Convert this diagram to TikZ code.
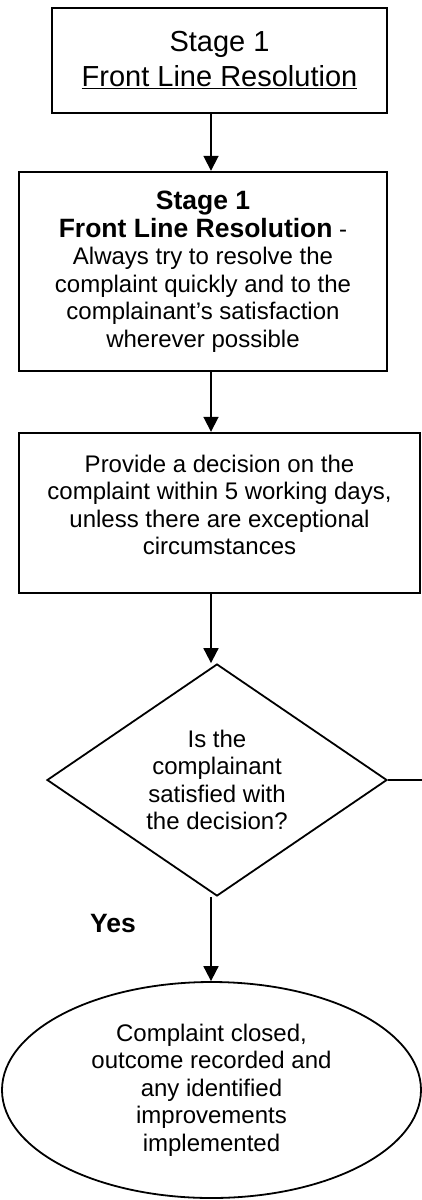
\documentclass[tikz,border=0pt]{standalone}
\usepackage{fontspec}
\setmainfont{Liberation Sans}
\usetikzlibrary{shapes.geometric,arrows.meta}

\begin{document}
\begin{tikzpicture}[x=1pt,y=-1pt,
    box/.style={draw,line width=2.4pt,rectangle,align=center,inner sep=0pt},
    arr/.style={line width=1.8pt,-{Triangle[length=15pt,width=15pt]}},
    body/.style={font=\fontsize{24}{27.5}\selectfont},
    heading/.style={font=\fontsize{26.5}{30}\selectfont\bfseries}]

    \useasboundingbox (0,0) rectangle (422,1200);
    \coordinate (spine) at (211,0);
    \coordinate (exit) at (422,780);

    \node (stage) at (219.5,60.5) [box,minimum width=335pt,minimum height=105pt,font=\fontsize{29}{35}\selectfont] {Stage 1\\\underline{Front Line Resolution}};
    \node (resolve) at (203,271.5) [box,minimum width=368pt,minimum height=199pt,body] {{\fontsize{26.5}{30}\selectfont\bfseries Stage 1}\\{\fontsize{26.5}{30}\selectfont\bfseries Front Line Resolution} -\\Always try to resolve the\\complaint quickly and to the\\complainant’s satisfaction\\wherever possible};
    \node (decision) at (219.5,513) [box,minimum width=401pt,minimum height=160pt] {};
    \node (decisiontext) at (219.5,505) [body,align=center] {Provide a decision on the\\complaint within 5 working days,\\unless there are exceptional\\circumstances};
    \node (satisfied) at (217,780) [diamond,draw,line width=1.8pt,aspect=1.466,minimum width=340pt,minimum height=232pt,inner sep=0pt,align=center,body] {Is the\\complainant\\satisfied with\\the decision?};
    \node (yes) at (113,924) [heading] {Yes};
    \node (closed) at (211.5,1090) [ellipse,draw,line width=1.8pt,minimum width=419pt,minimum height=216pt,inner sep=0pt,align=center,body] {Complaint closed,\\outcome recorded and\\any identified\\improvements\\implemented};

    \draw[arr] (stage.south -| spine) -- (resolve.north -| spine);
    \draw[arr] (resolve.south -| spine) -- (decision.north -| spine);
    \draw[arr] (decision.south -| spine) -- (satisfied.north -| spine);
    \draw[arr] (satisfied.south -| spine) -- (closed.north -| spine);
    \draw[line width=1.8pt] (satisfied.east) -- (exit);
\end{tikzpicture}
\end{document}
